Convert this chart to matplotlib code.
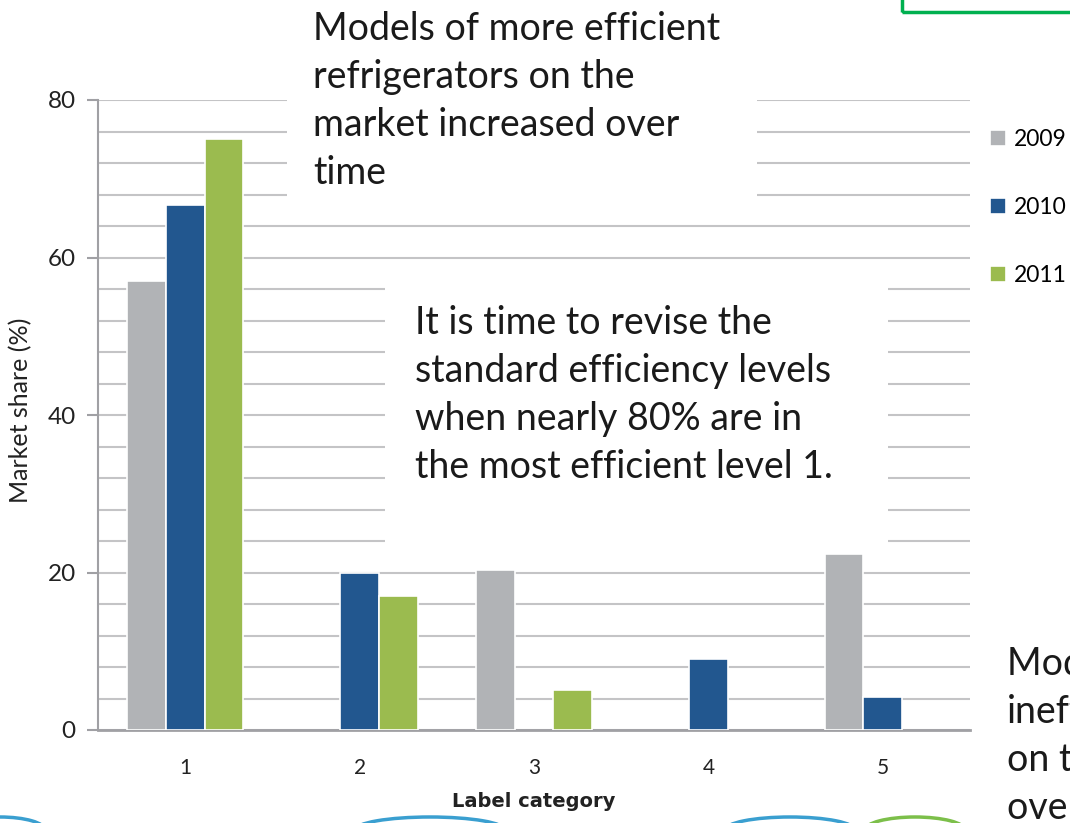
import matplotlib
matplotlib.use("Agg")
import matplotlib.pyplot as plt
import numpy as np
from matplotlib.patches import Rectangle, Arc

# data
categories = [1, 2, 3, 4, 5]
years = ["2009", "2010", "2011"]
share_2009 = [57.0, 0, 20.3, 0, 22.3]
share_2010 = [66.7, 20.0, 0, 9.0, 4.2]
share_2011 = [75.0, 17.0, 5.1, 0, 0]

colors = ["#b1b3b6", "#22578f", "#9bbb4f"]
grid_color = "#c4c4c6"
font = ["Lato", "DejaVu Sans"]

W, H = 1070, 823
fig = plt.figure(figsize=(W / 100, H / 100), dpi=100)
ax = fig.add_axes([98 / W, 1 - 730 / H, 872 / W, 630 / H])

x = np.array(categories)
bw = 0.222
for i, vals in enumerate([share_2009, share_2010, share_2011]):
    vals = np.array(vals)
    keep = vals > 0
    ax.bar(x[keep] + (i - 1) * bw, vals[keep], width=bw, color=colors[i],
           edgecolor="white", linewidth=1.2, zorder=3, label=years[i])

ax.set_xlim(0.5, 5.5)
ax.set_ylim(0, 80)
ax.set_yticks(np.arange(0, 81, 4), minor=True)
ax.set_yticks([0, 20, 40, 60, 80])
ax.grid(axis="y", which="both", color=grid_color, linewidth=1.5, zorder=0)
ax.set_axisbelow(True)
for s in ["top", "right"]:
    ax.spines[s].set_visible(False)
ax.spines["left"].set_color("#a0a0a4")
ax.spines["bottom"].set_color("#a0a0a4")
ax.spines["left"].set_linewidth(1.5)
ax.spines["bottom"].set_linewidth(2)
ax.tick_params(axis="y", which="major", length=8, color="#a0a0a4", width=1.5, pad=8)
ax.tick_params(axis="y", which="minor", length=0)
ax.tick_params(axis="x", length=0, pad=20)
ax.set_xticks(categories)
for lab in ax.get_yticklabels() + ax.get_xticklabels():
    lab.set_family(font)
    lab.set_color("#222222")
for lab in ax.get_yticklabels():
    lab.set_fontsize(17.5)
for lab in ax.get_xticklabels():
    lab.set_fontsize(15)

fig.text(21 / W, 1 - 410 / H, "Market share (%)", family=font, fontsize=18, color="#222222",
         rotation=90, ha="center", va="center")
ax.set_xlabel("Label category", family=["Liberation Sans Narrow", "DejaVu Sans"],
              fontsize=14, fontweight="bold", color="#222222", labelpad=10)

# legend
handles, labels = ax.get_legend_handles_labels()
leg = fig.legend(handles, labels, loc="upper left", bbox_to_anchor=(969 / W, 1 - 108 / H),
                 frameon=False, handlelength=0.7, handleheight=0.7, handletextpad=0.35,
                 labelspacing=2.05, prop={"family": font, "size": 16.5})

# white callout boxes covering the gridlines
def box(x0, y0, x1, y1):
    fig.patches.append(Rectangle((x0 / W, 1 - y1 / H), (x1 - x0) / W, (y1 - y0) / H,
                                 transform=fig.transFigure, facecolor="white",
                                 edgecolor="none", zorder=1))

box(287, 0, 757, 205)
box(385, 283, 888, 548)

txt_kw = dict(family=font, fontsize=27, color="#1a1a1a", linespacing=1.41, va="top", zorder=2)
fig.text(313 / W, 1 - 11 / H, "Models of more efficient\nrefrigerators on the\nmarket increased over\ntime", **txt_kw)
fig.text(415 / W, 1 - 305 / H, "It is time to revise the\nstandard efficiency levels\nwhen nearly 80% are in\nthe most efficient level 1.", **txt_kw)
fig.text(1007 / W, 1 - 646 / H, "Models of\ninefficient\non the market\nover time", **txt_kw)

# green frame at the top right
fig.patches.append(Rectangle((902 / W, 1 - 12 / H), 200 / W, 30 / H, transform=fig.transFigure,
                             facecolor="none", edgecolor="#00b050", linewidth=2.5, zorder=2))

# decorative waves at the bottom edge
for cx, w, c in [(0, 90, "#3a9fd0"), (430, 150, "#3a9fd0"), (790, 130, "#3a9fd0"), (915, 100, "#7cbf4a")]:
    fig.patches.append(Arc((cx / W, 1 - 830 / H), w / W, 26 / H, theta1=0, theta2=180,
                           transform=fig.transFigure, color=c, linewidth=2.5, zorder=2))

fig.savefig("out.png", dpi=100)
